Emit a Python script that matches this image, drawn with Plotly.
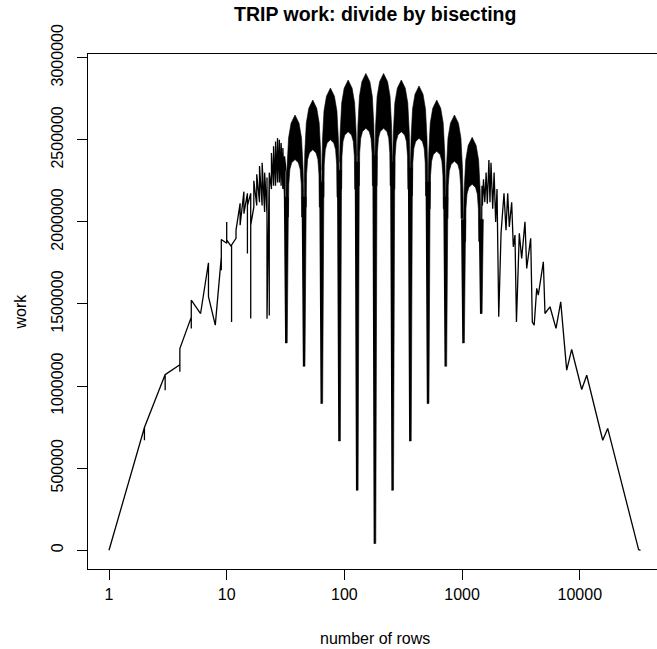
import math
import plotly.graph_objects as go

# ---------------- data ----------------
# sparse left tail (few rows)
left_rows = [
    1,
    2, 2, 2,
    3, 3, 3,
    4, 4, 4,
    5, 5, 5,
    6,
    7, 7,
    8,
    9, 9, 9,
    10, 10, 10,
    11, 11, 11,
    12, 12,
    13, 13,
    14, 14,
    15, 15, 15,
    16, 16, 16,
    17, 17,
    18, 18,
    19, 19,
    20, 20,
    21, 21,
    22, 22, 22,
    23, 23, 23,
    24, 24,
    25, 25,
    26, 26,
    27, 27,
    28, 28,
    29, 29,
    30, 30,
    31, 31,
    32, 32,
]
left_work = [
    0,
    748000, 670000, 748000,
    1070000, 975000, 1070000,
    1130000, 1087000, 1229000,
    1420000, 1350000, 1523000,
    1442000,
    1751000, 1544000,
    1371000,
    1787000, 1706000, 1893000,
    1870000, 2000000, 1890000,
    1848000, 1390000, 1860000,
    1900000, 1950000,
    2113000, 1980000,
    2184000, 2050000,
    2174000, 1808000, 2100000,
    2174000, 1412000, 1980000,
    2090000, 2250000,
    2100000, 2290000,
    2120000, 2340000,
    2100000, 2360000,
    2060000, 2300000,
    2050000, 2270000, 1410000,
    2280000, 1430000, 2300000,
    2200000, 2420000,
    2220000, 2460000,
    2220000, 2490000,
    2240000, 2510000,
    2240000, 2500000,
    2220000, 2480000,
    2200000, 2450000,
    2150000, 2400000,
    2300000, 1263000,
]

# sparse right tail (many rows)
right_rows = [1448, 1475, 1489, 1520, 1560, 1600, 1638, 1690, 1725, 1760,
              1820, 1870, 1928, 1980, 2048, 2142, 2270, 2360, 2440, 2518,
              2638, 2723, 2813, 2896, 3062, 3208, 3422, 3538, 3826, 3950,
              4096, 4305, 4440, 4900, 5060, 5580, 6280, 6885, 7740, 8530,
              10380, 11450, 15660, 17260, 31600, 32768]
right_work = [1442000, 2220000, 2100000, 2260000, 2120000, 2300000, 2110000, 2377000, 2120000, 2360000,
              2080000, 2300000, 2000000, 2200000, 1422000, 1930000, 2174000, 1950000, 2174000, 1970000,
              2120000, 1848000, 1920000, 1390000, 1930000, 1777000, 2000000, 1717000, 1900000, 1390000,
              1371000, 1595000, 1554000, 1757000, 1442000, 1483000, 1351000, 1513000, 1097000, 1223000,
              979000, 1066000, 670000, 742000, 4000, 0]

# dense middle part: dips (row count, lowest work) and the band between them
dip_rows = [32, 45.3, 64, 90.5, 128, 181, 256, 362, 512, 724, 1024, 1448]
dip_work = [1263000, 1121000, 894000, 666000, 366000, 41000,
            366000, 666000, 894000, 1121000, 1263000, 1442000]
arch_peak = [2651000, 2742000, 2815000, 2864000, 2904000, 2904000,
             2864000, 2828000, 2742000, 2651000, 2515000]
arch_hole = [2380000, 2440000, 2500000, 2549000, 2570000, 2570000,
             2549000, 2509000, 2430000, 2370000, 2230000]

# ---------------- band outline styling (shape of the dense arches) ----------------
OUT_F = [-0.97, -0.9, -0.73, -0.45, 0.0, 0.45, 0.73, 0.9, 0.97]
OUT_D = [500000, 320000, 140000, 50000, 0, 50000, 140000, 320000, 500000]
HOLE_F = [0.74, 0.70, 0.58, 0.38, 0.0, -0.38, -0.58, -0.70, -0.74]
HOLE_D = [350000, 150000, 60000, 20000, 0, 20000, 60000, 150000, 350000]
W_TOP, W_BOT = 0.26, 0.12

bx, by = [], []
for k in range(len(arch_peak)):
    a, b = math.log10(dip_rows[k]), math.log10(dip_rows[k + 1])
    c, hw = (a + b) / 2, (b - a) / 2
    p, h = arch_peak[k], arch_hole[k]
    for f, d in zip(OUT_F, OUT_D):
        bx.append(10 ** (c + f * hw)); by.append(p - d)
    bx.append(10 ** (c + 0.97 * hw)); by.append(h - 350000)
    for f, d in zip(HOLE_F, HOLE_D):
        bx.append(10 ** (c + f * hw)); by.append(h - d)
    bx.append(10 ** (c - 0.97 * hw)); by.append(h - 350000)
    bx.append(None); by.append(None)

hw_all = (math.log10(dip_rows[-1]) - math.log10(dip_rows[0])) / (2 * (len(dip_rows) - 1))
wx, wy = [], []
for i in range(len(dip_rows)):
    lg = math.log10(dip_rows[i])
    nb = [arch_peak[k] for k in (i - 1, i) if 0 <= k < len(arch_peak)]
    top = min(nb) - 500000
    wx += [10 ** (lg - W_TOP * hw_all), 10 ** (lg + W_TOP * hw_all),
           10 ** (lg + W_BOT * hw_all), 10 ** (lg - W_BOT * hw_all), None]
    wy += [top, top, dip_work[i], dip_work[i], None]

fig = go.Figure()
fig.add_trace(go.Scatter(x=bx, y=by, mode='lines', fill='toself', fillcolor='black',
                         line=dict(color='black', width=0.6), hoverinfo='skip'))
fig.add_trace(go.Scatter(x=wx, y=wy, mode='lines', fill='toself', fillcolor='black',
                         line=dict(color='black', width=0.6), hoverinfo='skip'))
fig.add_trace(go.Scatter(x=left_rows, y=left_work, mode='lines',
                         line=dict(color='black', width=1.3)))
fig.add_trace(go.Scatter(x=right_rows, y=right_work, mode='lines',
                         line=dict(color='black', width=1.3)))

FONT = 'Liberation Sans, Arial, Helvetica, sans-serif'
fig.update_layout(
    width=657, height=649,
    margin=dict(l=88, r=0, t=54, b=80),
    plot_bgcolor='white', paper_bgcolor='white',
    showlegend=False,
    font=dict(family=FONT, size=16, color='black'),
    xaxis=dict(type='log', range=[-0.1784, 4.6559],
               showline=True, linecolor='black', linewidth=1, mirror=True,
               ticks='outside', ticklen=10, tickcolor='black', tickwidth=1,
               tickvals=[1, 10, 100, 1000, 10000],
               ticktext=['1', '10', '100', '1000', '10000'],
               showgrid=False, zeroline=False, ticklabelstandoff=1),
    yaxis=dict(range=[-114000, 3022500],
               showline=True, linecolor='black', linewidth=1, mirror=False,
               ticks='outside', ticklen=10, tickcolor='black', tickwidth=1,
               tickvals=[0, 500000, 1000000, 1500000, 2000000, 2500000, 3000000],
               ticktext=['0', '500000', '1000000', '1500000', '2000000', '2500000', '3000000'],
               tickangle=-90, showgrid=False, zeroline=False, ticklabelstandoff=8),
    annotations=[
        dict(text='<b>TRIP work: divide by bisecting</b>', xref='paper', yref='paper',
             x=0.504, y=1, yshift=40, yanchor='middle', xanchor='center', showarrow=False,
             font=dict(size=19.5, family=FONT, color='black')),
        dict(text='number of rows', xref='paper', yref='paper', x=0.504, y=0, yshift=-69,
             yanchor='middle', xanchor='center', showarrow=False,
             font=dict(size=16, family=FONT, color='black')),
        dict(text='work', xref='paper', yref='paper', x=0, xshift=-68, y=0.5,
             yanchor='middle', xanchor='center', textangle=-90, showarrow=False,
             font=dict(size=16, family=FONT, color='black')),
    ],
)
fig.write_html('out.html')
